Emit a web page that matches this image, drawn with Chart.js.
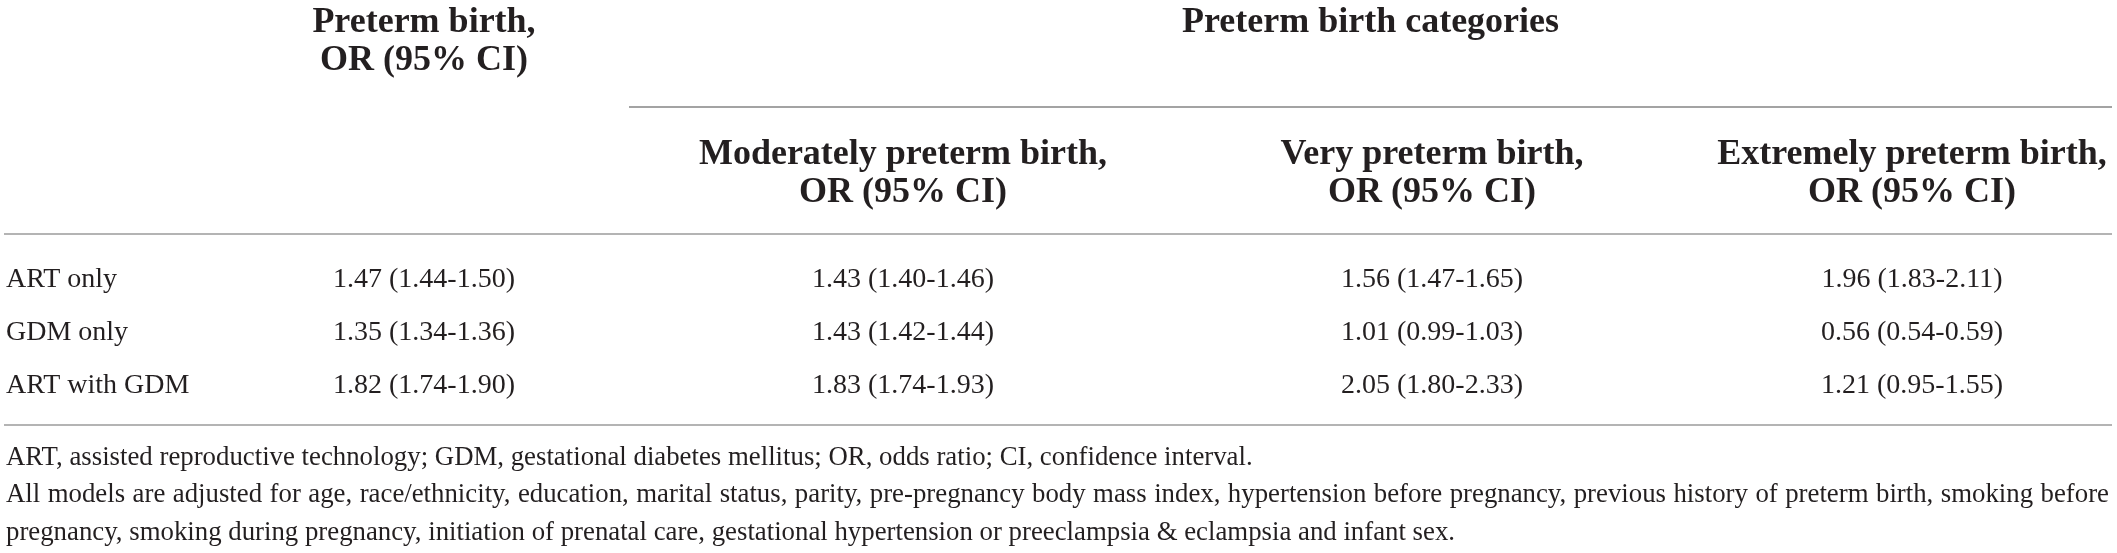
<!DOCTYPE html>
<html>
<head>
<meta charset="utf-8">
<title>Preterm birth OR table</title>
<script src="https://cdn.jsdelivr.net/npm/chart.js@4.4.1/dist/chart.umd.min.js"></script>
<style>
    html, body { margin: 0; padding: 0; background: #fff; }
    #wrap { position: relative; width: 2117px; height: 553px; }
</style>
</head>
<body>
<div id="wrap"><canvas id="orTable"></canvas></div>
<script>
// table content
const rowLabels = ['ART only', 'GDM only', 'ART with GDM'];
const groupHeader = 'Preterm birth categories';
const columnHeaders = [
    ['Preterm birth,', 'OR (95% CI)'],
    ['Moderately preterm birth,', 'OR (95% CI)'],
    ['Very preterm birth,', 'OR (95% CI)'],
    ['Extremely preterm birth,', 'OR (95% CI)']
];
// [OR, lower, upper] per row
const pretermAll = [[1.47, 1.44, 1.50], [1.35, 1.34, 1.36], [1.82, 1.74, 1.90]];
const moderately = [[1.43, 1.40, 1.46], [1.43, 1.42, 1.44], [1.83, 1.74, 1.93]];
const veryPreterm = [[1.56, 1.47, 1.65], [1.01, 0.99, 1.03], [2.05, 1.80, 2.33]];
const extremely = [[1.96, 1.83, 2.11], [0.56, 0.54, 0.59], [1.21, 0.95, 1.55]];
const footnotes = [
    'ART, assisted reproductive technology; GDM, gestational diabetes mellitus; OR, odds ratio; CI, confidence interval.',
    'All models are adjusted for age, race/ethnicity, education, marital status, parity, pre-pregnancy body mass index, hypertension before pregnancy, previous history of preterm birth, smoking before',
    'pregnancy, smoking during pregnancy, initiation of prenatal care, gestational hypertension or preeclampsia & eclampsia and infant sex.'
];

// layout, in scale units (the scales run 0..2117 and 0..553)
const labelX = 6;
const colX = [424, 903, 1432, 1912];
const rowY = [287, 340, 393];
const headTop = [32, 70];
const headSub = [164, 202];
const footY = [465, 502, 540];
const justifyFoot = [false, true, false];
const tableLeft = 4, tableRight = 2112, groupLeft = 629;
const ruleGroupY = 107, ruleHeadY = 234, ruleBodyY = 425;

const textColor = '#231f20';
const bodyFont = '28px "Liberation Serif", "Times New Roman", serif';
const footFont = '26.8px "Liberation Serif", "Times New Roman", serif';
const headFont = 'bold 36px "Liberation Serif", "Times New Roman", serif';

const columns = [pretermAll, moderately, veryPreterm, extremely];
const fmt = v => v[0].toFixed(2) + ' (' + v[1].toFixed(2) + '-' + v[2].toFixed(2) + ')';

const datasets = [{
    label: 'rows',
    data: rowY.map(y => ({ x: labelX, y: y })),
    texts: rowLabels,
    align: 'left',
    pointRadius: 0
}].concat(columns.map((col, c) => ({
    label: columnHeaders[c][0],
    data: rowY.map(y => ({ x: colX[c], y: y })),
    texts: col.map(fmt),
    align: 'center',
    pointRadius: 0
})));

function justified(ctx, text, x, y, width) {
    const words = text.split(' ');
    const total = words.reduce((s, w) => s + ctx.measureText(w).width, 0);
    const gap = (width - total) / (words.length - 1);
    let cx = x;
    ctx.textAlign = 'left';
    words.forEach(w => {
        ctx.fillText(w, cx, y);
        cx += ctx.measureText(w).width + gap;
    });
}

const tableText = {
    id: 'tableText',
    afterDatasetsDraw(chart) {
        const ctx = chart.ctx;
        const xs = chart.scales.x, ys = chart.scales.y;
        const px = v => xs.getPixelForValue(v);
        const py = v => ys.getPixelForValue(v);

        ctx.save();
        // rules
        ctx.strokeStyle = '#858585';
        ctx.lineWidth = 1.5;
        ctx.beginPath();
        ctx.moveTo(px(groupLeft), py(ruleGroupY));
        ctx.lineTo(px(tableRight), py(ruleGroupY));
        ctx.stroke();
        ctx.strokeStyle = '#b4b4b4';
        ctx.lineWidth = 2;
        [ruleHeadY, ruleBodyY].forEach(y => {
            ctx.beginPath();
            ctx.moveTo(px(tableLeft), py(y));
            ctx.lineTo(px(tableRight), py(y));
            ctx.stroke();
        });

        ctx.fillStyle = textColor;
        ctx.textBaseline = 'alphabetic';

        // headers
        ctx.font = headFont;
        ctx.textAlign = 'center';
        columnHeaders[0].forEach((t, i) => ctx.fillText(t, px(colX[0]), py(headTop[i])));
        ctx.fillText(groupHeader, (px(groupLeft) + px(tableRight)) / 2, py(headTop[0]));
        columnHeaders.slice(1).forEach((h, c) => {
            h.forEach((t, i) => ctx.fillText(t, px(colX[c + 1]), py(headSub[i])));
        });

        // cells, placed at the points of each dataset
        ctx.font = bodyFont;
        chart.data.datasets.forEach((ds, d) => {
            const meta = chart.getDatasetMeta(d);
            ctx.textAlign = ds.align;
            meta.data.forEach((pt, i) => ctx.fillText(ds.texts[i], pt.x, pt.y));
        });

        // footnotes
        ctx.font = footFont;
        footnotes.forEach((t, i) => {
            if (justifyFoot[i]) {
                justified(ctx, t, px(labelX), py(footY[i]), px(tableRight) - px(labelX) - 3);
            } else {
                ctx.textAlign = 'left';
                ctx.fillText(t, px(labelX), py(footY[i]));
            }
        });
        ctx.restore();
    }
};

new Chart(document.getElementById('orTable'), {
    type: 'scatter',
    data: { datasets: datasets },
    options: {
        responsive: true,
        maintainAspectRatio: false,
        animation: false,
        events: [],
        layout: { padding: 0 },
        plugins: { legend: { display: false }, tooltip: { enabled: false } },
        scales: {
            x: { type: 'linear', min: 0, max: 2117, display: false },
            y: { type: 'linear', min: 0, max: 553, reverse: true, display: false }
        }
    },
    plugins: [tableText]
});
</script>
</body>
</html>
